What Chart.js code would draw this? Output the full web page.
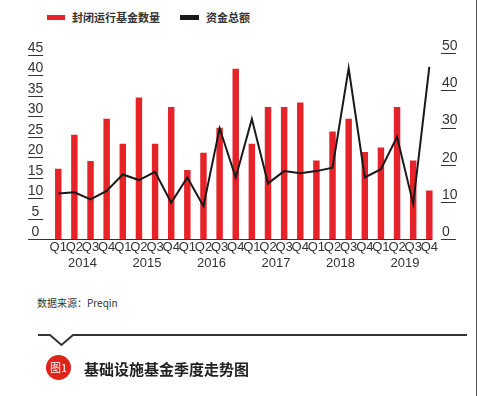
<!DOCTYPE html>
<html>
<head>
<meta charset="utf-8">
<script src="https://cdn.jsdelivr.net/npm/chart.js@4"></script>
<style>
  body { margin: 0; background: #fff; width: 478px; height: 396px; position: relative; overflow: hidden;
         font-family: "Noto Sans CJK SC", sans-serif; color: #333; }
  #wrap { position: absolute; left: 0; top: 0; width: 478px; height: 280px; }
  .legend { position: absolute; top: 9px; left: 47px; font-size: 11px; font-weight: bold; display: flex; align-items: center; color: #333; }
  .sw { display: inline-block; width: 18px; height: 5px; margin-right: 7px; }
  .edge { position: absolute; left: 476px; top: 0; width: 1px; height: 396px; background: #555; }
  .source { position: absolute; left: 37px; top: 295px; font-size: 10px; color: #333; }
  .badge { position: absolute; left: 46px; top: 355px; width: 25px; height: 25px; border-radius: 50%; background: #e2231a;
           color: #fff; font-size: 11px; line-height: 25px; text-align: center; }
  .title { position: absolute; left: 84px; top: 358px; font-size: 15px; font-weight: bold; color: #222; }
</style>
</head>
<body>
<div class="legend">
  <span class="sw" style="background:#e52329"></span><span>封闭运行基金数量</span>
  <span class="sw" style="background:#1a1a1a;margin-left:20px;width:19px"></span><span>资金总额</span>
</div>
<div id="wrap"><canvas id="chart"></canvas></div>
<div class="edge"></div>
<div class="source">数据来源：Preqin</div>
<svg style="position:absolute;left:0;top:0" width="478" height="396">
  <polyline points="38,335 50,335 61.5,345 73,335 467,335" fill="none" stroke="#333" stroke-width="2"/>
</svg>
<div class="badge">图1</div>
<div class="title">基础设施基金季度走势图</div>
<script>
const quarters = ["Q1","Q2","Q3","Q4","Q1","Q2","Q3","Q4","Q1","Q2","Q3","Q4",
                  "Q1","Q2","Q3","Q4","Q1","Q2","Q3","Q4","Q1","Q2","Q3","Q4"];
const yearRow = ["","2014","","","","2015","","","","2016","","",
                 "","2017","","","","2018","","","","2019","",""];
const fundCounts = [17.2, 25.5, 19.1, 29.4, 23.3, 34.6, 23.3, 32.3, 16.9, 21.1, 27.2, 41.6,
                    23.3, 32.3, 32.3, 33.4, 19.2, 26.3, 29.4, 21.3, 22.4, 32.3, 19.2, 11.9];
const totalCapital = [12.3, 12.6, 10.7, 13, 17.4, 15.9, 18.1, 9.8, 16.6, 8.9, 29.8, 16.6,
                      32.3, 15, 18.3, 17.7, 18.3, 19.2, 45.9, 16.6, 18.8, 27.5, 9.5, 46.3];
const leftTicks = [0, 5, 10, 15, 20, 25, 30, 35, 40, 45];
const rightTicks = [0, 10, 20, 30, 40, 50];

const narrow = '"Liberation Sans Narrow", "Liberation Sans", Arial, sans-serif';
const plain = '"Liberation Sans", Arial, sans-serif';

const underlines = {
  id: "underlines",
  afterDraw(chart) {
    const { ctx, scales: { x, yL, yR } } = chart;
    ctx.save();
    ctx.strokeStyle = "#333";
    ctx.lineWidth = 1;
    const seg = (x0, x1, y) => { ctx.beginPath(); ctx.moveTo(x0, y); ctx.lineTo(x1, y); ctx.stroke(); };
    yL.ticks.forEach(t => seg(yL.right - 22, yL.right - 7, Math.round(yL.getPixelForValue(t.value)) + 0.5));
    yR.ticks.forEach(t => seg(yR.left + 3.5, yR.left + 18.5, Math.round(yR.getPixelForValue(t.value)) + 0.5));
    seg(yL.right - 22, x.right - 5, Math.round(yL.getPixelForValue(0)) + 0.5);
    ctx.restore();
  }
};

new Chart(document.getElementById("chart"), {
  type: "bar",
  data: {
    labels: quarters,
    datasets: [
      { type: "line", label: "资金总额", data: totalCapital, yAxisID: "yR", xAxisID: "x",
        borderColor: "#1a1a1a", borderWidth: 2, pointRadius: 0, tension: 0, order: 0 },
      { label: "封闭运行基金数量", data: fundCounts, yAxisID: "yL", xAxisID: "x",
        backgroundColor: "#e52329", barPercentage: 0.4, categoryPercentage: 1, order: 1 }
    ]
  },
  options: {
    responsive: true,
    maintainAspectRatio: false,
    animation: false,
    layout: { padding: { top: 53, left: 0, right: 0, bottom: 0 } },
    plugins: { legend: { display: false }, tooltip: { enabled: false } },
    scales: {
      x: {
        position: "bottom", weight: 0, offset: true,
        grid: { display: false, drawTicks: false }, border: { display: false },
        ticks: { autoSkip: false, maxRotation: 0, padding: 0, color: "#333", font: { family: narrow, size: 13 } },
        afterFit: s => { s.height = 14.5; }
      },
      xYear: {
        type: "category", labels: yearRow, position: "bottom", weight: 1, offset: true,
        grid: { display: false, drawTicks: false }, border: { display: false },
        ticks: { autoSkip: false, maxRotation: 0, padding: 2, labelOffset: 8, color: "#333", font: { family: narrow, size: 13 } },
        afterFit: s => { s.height = 26.2; }
      },
      yL: {
        position: "left", min: 0, max: 45.45,
        afterBuildTicks: s => { s.ticks = leftTicks.map(v => ({ value: v })); },
        grid: { display: false, drawTicks: false }, border: { display: false },
        ticks: { padding: 7, crossAlign: "center", labelOffset: -7, color: "#333", font: { family: plain, size: 14 } },
        afterFit: s => { s.width = 50.2; }
      },
      yR: {
        position: "right", min: 0, max: 50,
        afterBuildTicks: s => { s.ticks = rightTicks.map(v => ({ value: v })); },
        grid: { display: false, drawTicks: false }, border: { display: false },
        ticks: { padding: 4.6, crossAlign: "near", labelOffset: -7, color: "#333", font: { family: plain, size: 14 } },
        afterFit: s => { s.width = 40.6; }
      }
    }
  },
  plugins: [underlines]
});
</script>
</body>
</html>
